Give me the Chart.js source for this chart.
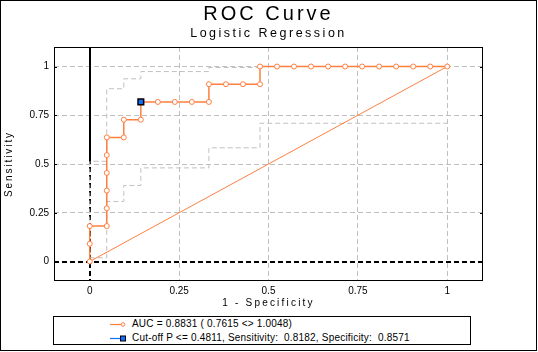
<!DOCTYPE html>
<html><head><meta charset="utf-8">
<script src="https://cdn.jsdelivr.net/npm/chart.js@4.4.0/dist/chart.umd.min.js"></script>
<style>
html,body{margin:0;padding:0;background:#fff;}
#wrap{position:relative;width:538px;height:352px;overflow:hidden;background:#fff;}
#c{position:absolute;left:0;top:0;}
#frame{position:absolute;left:0;top:0;width:537px;height:351px;border:1px solid #000;box-sizing:border-box;pointer-events:none;}
#legend{position:absolute;left:53px;top:316px;width:418px;height:29px;border:1px solid #000;box-sizing:border-box;font:10px Arial,"Liberation Sans",sans-serif;letter-spacing:0.2px;color:#000;background:#fff;}
.row{position:absolute;left:0;width:100%;height:14px;white-space:pre;line-height:14px;}
.row svg{position:absolute;left:56px;top:0;}
.row span{position:absolute;left:78px;top:0;}
</style></head>
<body>
<div id="wrap">
<canvas id="c" width="538" height="352"></canvas>
<div id="legend"></div>
<div id="frame"></div>
</div>
<script>
const TITLE = 'ROC Curve';
const SUBTITLE = 'Logistic Regression';
const X_TITLE = '1 - Specificity';
const Y_TITLE = 'Sensitivity';
const xTicks = [0, 0.25, 0.5, 0.75, 1];
const yTicks = [0, 0.25, 0.5, 0.75, 1];

// ROC curve (1 - specificity, sensitivity)
const rocFpr = [0, 0, 0, 0.0476, 0.0476, 0.0476, 0.0476, 0.0476, 0.0476, 0.0952, 0.0952, 0.1429, 0.1429, 0.1905, 0.2381, 0.2857, 0.3333, 0.3333, 0.3810, 0.4286, 0.4762, 0.4762, 0.5238, 0.5714, 0.6190, 0.6667, 0.7143, 0.7619, 0.8095, 0.8571, 0.9048, 0.9524, 1];
const rocTpr = [0, 0.0909, 0.1818, 0.1818, 0.2727, 0.3636, 0.4545, 0.5455, 0.6364, 0.6364, 0.7273, 0.7273, 0.8182, 0.8182, 0.8182, 0.8182, 0.8182, 0.9091, 0.9091, 0.9091, 0.9091, 1, 1, 1, 1, 1, 1, 1, 1, 1, 1, 1, 1];

// chance diagonal
const diagX = [0, 1];
const diagY = [0, 1];

// confidence band (upper / lower)
const upperX = [0, 0, 0.0476, 0.0476, 0.0952, 0.0952, 0.1429, 0.1429, 0.3333, 0.3333, 0.4762, 0.4762, 1];
const upperY = [0, 0.514, 0.514, 0.886, 0.886, 0.937, 0.937, 0.974, 0.974, 0.995, 0.995, 1, 1];
const lowerX = [0, 0.0476, 0.0476, 0.0952, 0.0952, 0.1429, 0.1429, 0.3333, 0.3333, 0.4762, 0.4762, 1];
const lowerY = [0.019, 0.019, 0.308, 0.308, 0.390, 0.390, 0.480, 0.480, 0.583, 0.583, 0.709, 0.709];

// optimal cut-off point
const cutoffX = [0.1429];
const cutoffY = [0.8182];

const legendLabels = ['AUC = 0.8831 ( 0.7615 <> 1.0048)', 'Cut-off P <= 0.4811, Sensitivity:  0.8182, Specificity:  0.8571'];

const ORANGE = '#ff7f3f';
const BLUE = '#0f6fff';
const GRAY = '#c0c0c0';
const FONT = 'Arial, "Liberation Sans", sans-serif';

const pts = (xs, ys) => xs.map((x, i) => ({x: x, y: ys[i]}));

// legend (HTML)
const lg = document.getElementById('legend');
lg.innerHTML =
  '<div class="row" style="top:0px"><svg width="16" height="14"><line x1="0" y1="7.5" x2="14" y2="7.5" stroke="' + ORANGE + '" stroke-width="1.2"/><circle cx="13" cy="7.5" r="1.8" fill="#fff" stroke="' + ORANGE + '" stroke-width="1"/></svg><span></span></div>' +
  '<div class="row" style="top:14px"><svg width="16" height="14"><line x1="0" y1="7.5" x2="14" y2="7.5" stroke="' + BLUE + '" stroke-width="1.2"/><rect x="10.5" y="5" width="5" height="5" fill="' + BLUE + '" stroke="#000" stroke-width="1"/></svg><span></span></div>';
const spans = lg.querySelectorAll('span');
spans[0].textContent = legendLabels[0];
spans[1].textContent = legendLabels[1];

const spacingPlugin = {
  id: 'spacing',
  beforeDraw(chart) {
    const wrap = (obj, fn, sp) => {
      if (!obj || obj['__w' + fn]) return;
      const orig = obj[fn];
      obj[fn] = function (...a) {
        const c = chart.ctx;
        const prev = c.letterSpacing;
        c.letterSpacing = sp;
        try { return orig.apply(this, a); } finally { c.letterSpacing = prev || '0px'; }
      };
      obj['__w' + fn] = true;
    };
    chart.boxes.forEach(b => {
      if (b.options && b.options.text === SUBTITLE) wrap(b, 'draw', '2.5px');
      if (b.options && b.options.text === TITLE) wrap(b, 'draw', '3px');
    });
    wrap(chart.scales.x, 'drawTitle', '2.2px');
    wrap(chart.scales.y, 'drawTitle', '1.9px');
  }
};

const framePlugin = {
  id: 'plotFrame',
  afterDatasetsDraw(chart) {
    const {ctx, chartArea: a, scales} = chart;
    ctx.save();
    const x0 = Math.round(scales.x.getPixelForValue(0));
    ctx.strokeStyle = '#000';
    ctx.lineWidth = 2;
    ctx.beginPath();
    ctx.moveTo(x0, a.top);
    ctx.lineTo(x0, scales.y.getPixelForValue(0.514));
    ctx.stroke();
    ctx.restore();
  },
  afterDraw(chart) {
    const {ctx, chartArea: a, scales} = chart;
    ctx.save();
    ctx.strokeStyle = '#000';
    ctx.lineWidth = 1;
    ctx.strokeRect(Math.round(a.left) + 0.5, Math.round(a.top) + 0.5, Math.round(a.right - a.left) - 1, Math.round(a.bottom - a.top) - 1);
    ctx.beginPath();
    yTicks.forEach(v => {
      const y = Math.round(scales.y.getPixelForValue(v)) + 0.5;
      ctx.moveTo(a.left, y); ctx.lineTo(a.left + 3, y);
      ctx.moveTo(a.right, y); ctx.lineTo(a.right - 3, y);
    });
    ctx.stroke();
    ctx.restore();
  }
};

new Chart(document.getElementById('c'), {
  type: 'scatter',
  data: {
    datasets: [
      {
        label: legendLabels[1],
        data: pts(cutoffX, cutoffY),
        showLine: false,
        pointStyle: 'rect',
        pointRadius: 4,
        pointBackgroundColor: BLUE,
        pointBorderColor: '#000',
        pointBorderWidth: 1.5,
        borderColor: BLUE,
        backgroundColor: BLUE
      },
      {
        label: legendLabels[0],
        data: pts(rocFpr, rocTpr),
        showLine: true,
        borderColor: ORANGE,
        borderWidth: 1.5,
        pointRadius: 2.5,
        pointBorderWidth: 1,
        pointBackgroundColor: '#fff',
        pointBorderColor: ORANGE,
        tension: 0
      },
      {
        label: 'diagonal',
        data: pts(diagX, diagY),
        showLine: true,
        borderColor: ORANGE,
        borderWidth: 1,
        pointRadius: 0
      },
      {
        label: 'upper',
        data: pts(upperX, upperY),
        showLine: true,
        borderColor: GRAY,
        borderWidth: 1,
        borderDash: [5, 3],
        pointRadius: 0
      },
      {
        label: 'lower',
        data: pts(lowerX, lowerY),
        showLine: true,
        borderColor: GRAY,
        borderWidth: 1,
        borderDash: [5, 3],
        pointRadius: 0
      }
    ]
  },
  options: {
    responsive: false,
    animation: false,
    devicePixelRatio: 1,
    events: [],
    layout: {padding: {left: 0, right: 55, top: 0, bottom: 42.5}},
    plugins: {
      legend: {display: false},
      tooltip: {enabled: false},
      title: {
        display: true, fullSize: false, text: TITLE, color: '#000',
        font: {family: FONT, size: 20, weight: 'normal', lineHeight: 1.2},
        padding: {top: 2.5, bottom: 0}
      },
      subtitle: {
        display: true, fullSize: false, text: SUBTITLE, color: '#000',
        font: {family: FONT, size: 12.5, weight: 'normal', lineHeight: 1.2},
        padding: {top: 0, bottom: 5.5}
      }
    },
    scales: {
      x: {
        type: 'linear', position: 'bottom', min: -0.1, max: 1.1,
        afterBuildTicks: s => { s.ticks = xTicks.map(v => ({value: v})); },
        afterFit: s => { s.height = 28.5; },
        ticks: {padding: 4, color: '#000', font: {family: FONT, size: 10}, autoSkip: false, maxRotation: 0, callback: v => String(v)},
        grid: {
          drawTicks: false,
          color: c => (c.tick && c.tick.value === 0) ? '#000' : GRAY,
          lineWidth: c => (c.tick && c.tick.value === 0) ? 2 : 1
        },
        border: {display: false, dash: [5, 3]},
        title: {display: true, text: X_TITLE, color: '#000', font: {family: FONT, size: 10, lineHeight: 1.2}, padding: {top: 0, bottom: 0}}
      },
      y: {
        type: 'linear', position: 'left', min: -0.1, max: 1.1,
        afterBuildTicks: s => { s.ticks = yTicks.map(v => ({value: v})); },
        afterFit: s => { s.width = 54; },
        ticks: {padding: 5, color: '#000', font: {family: FONT, size: 10}, autoSkip: false, callback: v => String(v)},
        grid: {
          drawTicks: false,
          color: c => (c.tick && c.tick.value === 0) ? '#000' : GRAY,
          lineWidth: c => (c.tick && c.tick.value === 0) ? 2 : 1
        },
        border: {display: false, dash: [5, 3]},
        title: {display: true, text: Y_TITLE, color: '#000', font: {family: FONT, size: 10, lineHeight: 1.2}, padding: {top: 3.7, bottom: 0}}
      }
    }
  },
  plugins: [spacingPlugin, framePlugin]
});
</script>
</body></html>
